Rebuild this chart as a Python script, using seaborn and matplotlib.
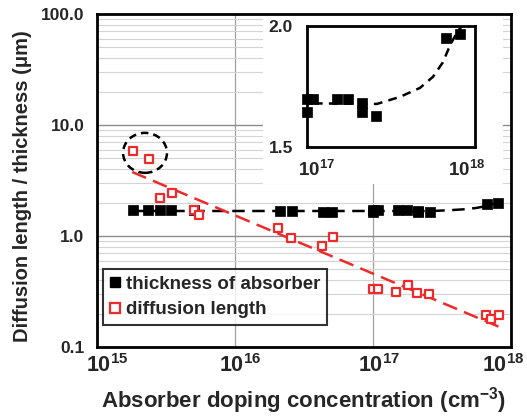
import numpy as np
import pandas as pd
import matplotlib
matplotlib.use("Agg")
import matplotlib.pyplot as plt
import seaborn as sns
from matplotlib.ticker import FixedLocator, FuncFormatter, NullFormatter
from matplotlib.lines import Line2D
from matplotlib.patches import Rectangle, Ellipse
import matplotlib.transforms as mtransforms

# ---------------- data ----------------
thick_x = [1.82e15, 2.34e15, 2.86e15, 3.44e15, 5.05e15, 2.12e16, 2.59e16, 4.34e16, 5.05e16,
           1.0e17, 1.0e17, 1.085e17, 1.51e17, 1.75e17, 2.12e17, 2.12e17, 2.57e17, 6.7e17, 8.1e17]
thick_y = [1.70, 1.70, 1.72, 1.72, 1.70, 1.68, 1.68, 1.64, 1.64,
           1.70, 1.645, 1.70, 1.70, 1.70, 1.68, 1.645, 1.63, 1.95, 1.967]

diff_x = [1.82e15, 2.38e15, 2.86e15, 3.5e15, 5.05e15, 5.5e15, 2.05e16, 2.54e16, 4.3e16, 5.1e16,
          1.0e17, 1.08e17, 1.47e17, 1.8e17, 2.08e17, 2.55e17, 6.6e17, 7.2e17, 8.2e17]
diff_y = [5.83, 4.94, 2.2, 2.44, 1.71, 1.55, 1.18, 0.96, 0.81, 0.98,
          0.333, 0.333, 0.313, 0.362, 0.306, 0.30, 0.195, 0.18, 0.195]

fit_diff_x = [1.8e15, 8.3e17]
fit_diff_y = [3.77, 0.151]

fit_thick_x = [1.8e15, 1.0e17, 1.23e17, 2.61e17, 3.57e17, 4.7e17, 5.62e17, 6.44e17, 7.1e17, 7.9e17, 8.4e17]
fit_thick_y = [1.68, 1.68, 1.68, 1.678, 1.707, 1.744, 1.79, 1.85, 1.92, 1.98, 2.0]

main_yticks = [0.1, 1.0, 10.0, 100.0]
main_ytick_labels = ["0.1", "1.0", "10.0", "100.0"]
main_xticks = [1e15, 1e16, 1e17, 1e18]
inset_yticks = [1.5, 2.0]
inset_xticks = [1e17, 1e18]

legend_labels = ["thickness of absorber", "diffusion length"]
xlabel = r"Absorber doping concentration (cm$^{\mathbf{-3}}$)"
ylabel = "Diffusion length / thickness (\u03bcm)"

RED = "#ee2a2a"

# ---------------- style ----------------
sns.set_theme(style="white")
plt.rcParams["font.family"] = ["Liberation Sans", "DejaVu Sans"]
plt.rcParams["font.weight"] = "bold"
plt.rcParams["axes.labelweight"] = "bold"
plt.rcParams["mathtext.fontset"] = "custom"
plt.rcParams["mathtext.rm"] = "Liberation Sans:bold"
plt.rcParams["mathtext.bf"] = "Liberation Sans:bold"
plt.rcParams["mathtext.it"] = "Liberation Sans:bold"
plt.rcParams["mathtext.default"] = "bf"

df_thick = pd.DataFrame({"x": thick_x, "y": thick_y})
df_diff = pd.DataFrame({"x": diff_x, "y": diff_y})
df_fd = pd.DataFrame({"x": fit_diff_x, "y": fit_diff_y})
df_ft = pd.DataFrame({"x": fit_thick_x, "y": fit_thick_y})

fig = plt.figure(figsize=(5.27, 4.2), dpi=100)
ax = fig.add_axes([97/527, 1-347/420, 414/527, 333/420])
ax.set_xscale("log")
ax.set_yscale("log")
ax.set_xlim(1e15, 1e18)
ax.set_ylim(0.1, 100)

# grid
for v in [1e16, 1e17]:
    ax.axvline(v, color="#a0a0a0", lw=0.9, zorder=0)
for dec in [0.1, 1.0, 10.0]:
    for m in range(2, 10):
        ax.axhline(dec*m, color="#d4d4d4", lw=0.8, zorder=0)
for v in [1.0, 10.0]:
    ax.axhline(v, color="#8c8c8c", lw=1.0, zorder=0)

# white inset background
ax.add_patch(Rectangle((0.401, 0.489), 0.58, 0.511, transform=ax.transAxes,
                       facecolor="white", edgecolor="none", zorder=0.5))

# fit lines
sns.lineplot(data=df_ft, x="x", y="y", ax=ax, color="black", lw=1.8, sort=False, zorder=2)
ax.lines[-1].set_dashes((5, 3))
sns.lineplot(data=df_fd, x="x", y="y", ax=ax, color=RED, lw=1.8, sort=False, zorder=2)
ax.lines[-1].set_dashes((6, 3))

# points
sns.scatterplot(data=df_thick, x="x", y="y", ax=ax, marker="s", s=42,
                color="black", edgecolor="black", linewidth=0.5, zorder=3)
sns.scatterplot(data=df_diff, x="x", y="y", ax=ax, marker="s", s=34,
                facecolor="white", edgecolor=RED, linewidth=1.6, zorder=4)

# dashed circle annotation
ax.add_patch(Ellipse((0.116, 0.583), 0.106, 0.12, transform=ax.transAxes,
                     fill=False, edgecolor="black", lw=1.8, linestyle=(0, (3, 2)), zorder=5))

# axes formatting
ax.yaxis.set_major_locator(FixedLocator(main_yticks))
ax.yaxis.set_major_formatter(FuncFormatter(lambda v, p: main_ytick_labels[main_yticks.index(v)] if v in main_yticks else ""))
ax.yaxis.set_minor_locator(FixedLocator([d*m for d in [0.1, 1, 10] for m in range(2, 10)]))
ax.yaxis.set_minor_formatter(NullFormatter())
ax.xaxis.set_major_locator(FixedLocator(main_xticks))
ax.xaxis.set_major_formatter(FuncFormatter(lambda v, p: r"$\mathbf{10^{%d}}$" % round(np.log10(v))))
ax.xaxis.set_minor_locator(FixedLocator([d*m for d in [1e15, 1e16, 1e17] for m in range(2, 10)]))
ax.xaxis.set_minor_formatter(NullFormatter())
ax.tick_params(axis="both", which="major", direction="in", length=0)
ax.tick_params(axis="y", which="major", labelsize=12.5, pad=9)
ax.tick_params(axis="x", which="major", labelsize=15.5, pad=5)
ax.tick_params(axis="both", which="minor", direction="in", length=4, width=0.8, color="black")
for s in ax.spines.values():
    s.set_linewidth(2)
    s.set_color("black")
ax.set_xlabel(xlabel, fontsize=16, fontweight="bold", labelpad=6)
ax.set_ylabel(ylabel, fontsize=14.5, fontweight="bold")
ax.yaxis.set_label_coords(-0.158, 0.483)

handles = [Line2D([], [], marker="s", ls="none", color="black", markersize=7.5),
           Line2D([], [], marker="s", ls="none", markerfacecolor="white",
                  markeredgecolor=RED, markeredgewidth=1.6, markersize=7)]
leg = ax.legend(handles, legend_labels, loc="lower left", bbox_to_anchor=(0.005, 0.055),
                prop={"weight": "bold", "size": 13.5}, frameon=True, fancybox=False,
                handlelength=0.6, handletextpad=0.3, borderpad=0.35, labelspacing=0.45,
                borderaxespad=0.2)
leg.get_frame().set_edgecolor("black")
leg.get_frame().set_linewidth(1.5)

# ---------------- inset ----------------
ins = fig.add_axes([307/527, 1-147/420, 168/527, 121/420])
ins.set_xscale("log")
ins.set_xlim(1e17, 1e18)
ins.set_ylim(1.5, 2.0)
sns.lineplot(data=df_ft, x="x", y="y", ax=ins, color="black", lw=1.8, sort=False)
ins.lines[-1].set_dashes((3.5, 2.5))
sns.scatterplot(data=df_thick[df_thick["x"] >= 1e17], x="x", y="y", ax=ins, marker="s", s=50,
                color="black", edgecolor="black", linewidth=0.5, clip_on=False, zorder=3)
ins.yaxis.set_major_locator(FixedLocator(inset_yticks))
ins.yaxis.set_major_formatter(FuncFormatter(lambda v, p: "%.1f" % v))
ins.xaxis.set_major_locator(FixedLocator(inset_xticks))
ins.xaxis.set_major_formatter(FuncFormatter(lambda v, p: r"$\mathbf{10^{%d}}$" % round(np.log10(v))))
ins.xaxis.set_minor_locator(FixedLocator([1e17*m for m in range(2, 10)]))
ins.xaxis.set_minor_formatter(NullFormatter())
ins.tick_params(axis="both", which="major", length=0)
ins.tick_params(axis="y", which="major", labelsize=12.5, pad=10)
ins.tick_params(axis="x", which="major", labelsize=13.5, pad=9)
ins.tick_params(axis="x", which="minor", direction="in", length=4, width=0.8)
ins.set_xlabel("")
ins.set_ylabel("")
for s in ins.spines.values():
    s.set_linewidth(2)
    s.set_color("black")

# per-label horizontal nudges (pixels), like the reference layout
fig.canvas.draw()
for lab, dx in zip(ax.get_xticklabels(), [10, 5, 6, -8]):
    lab.set_transform(lab.get_transform() + mtransforms.ScaledTranslation(dx/100, 0, fig.dpi_scale_trans))
for lab, dx in zip(ins.get_xticklabels(), [10, -8]):
    lab.set_transform(lab.get_transform() + mtransforms.ScaledTranslation(dx/100, 0, fig.dpi_scale_trans))

fig.savefig("out.png", dpi=100)
